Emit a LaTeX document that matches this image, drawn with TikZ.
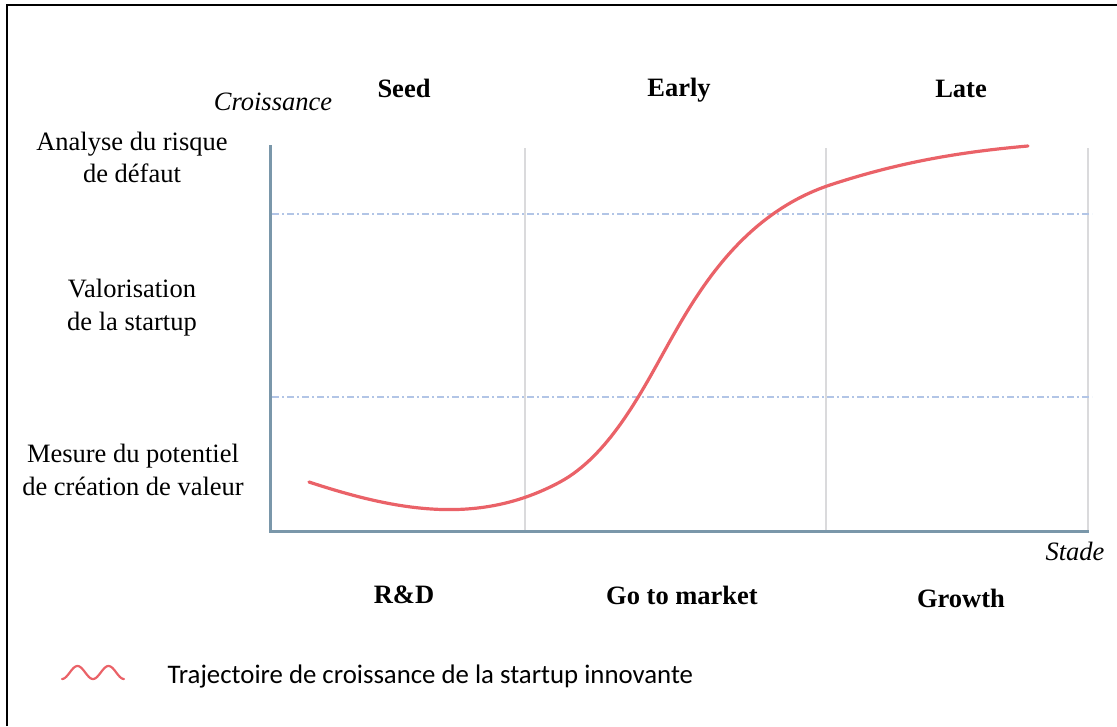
\documentclass[tikz,border=0pt]{standalone}
\usepackage{fontspec}
\setmainfont{Liberation Serif}
\newfontfamily\legendfont{Carlito}
\usetikzlibrary{positioning}
\definecolor{axisblue}{RGB}{122,151,170}
\definecolor{gridgray}{RGB}{218,218,220}
\definecolor{levelblue}{RGB}{178,197,230}
\definecolor{curvered}{RGB}{234,98,104}
\tikzset{
    stage/.style = {anchor=base, font=\fontsize{26.5}{32}\selectfont\bfseries},
    axlabel/.style = {anchor=base, font=\fontsize{26.5}{32}\selectfont\itshape},
    level/.style = {align=center, font=\fontsize{26.5}{32.5}\selectfont},
    axisline/.style = {draw=axisblue, line width=3pt},
    gridline/.style = {draw=gridgray, line width=1.8pt},
    levelline/.style = {draw=levelblue, line width=1.3pt,
        dash pattern=on 7pt off 3pt on 2pt off 3pt},
    growth/.style = {draw=curvered, line width=3.2pt, line cap=round}
}
\begin{document}
\begin{tikzpicture}[x=1pt, y=-1pt]
        \useasboundingbox (0,0) rectangle (1117,726);
        \draw[line width=2.5pt] (7,726) -- (7,5) -- (1117,5);
        % axes
        \coordinate (top) at (270,145);
        \coordinate (O) at (270,531);
        \coordinate (end) at (1089,531);
        \foreach \gx in {525,826,1088}
            \draw[gridline] (\gx,148) -- (\gx,531);
        \foreach \ly in {214,397}
            \draw[levelline] (272,\ly) -- (1092,\ly);
        \draw[axisline] (top) -- (O) -- (end);
        % growth curve
        \draw[growth] (309,482) .. controls (400,512) and (480,525) .. (560,482)
            .. controls (608,456) and (640,395) .. (665,350)
            .. controls (695,296) and (740,215) .. (830,185)
            .. controls (900,162) and (960,152) .. (1028,146);
        % labels
        \node[axlabel] (croiss) at (273,110) {Croissance};
        \node[axlabel] (stade) at (1075,560) {Stade};
        \node[stage] (seed) at (404,97) {Seed};
        \node[stage] (early) at (679,96) {Early};
        \node[stage] (late) at (961,97) {Late};
        \node[stage] (rd) at (404,603) {R\&D};
        \node[stage] (gtm) at (682,604) {Go to market};
        \node[stage] (grow) at (961,607) {Growth};
        \node[level] (risk) at (132,160) {\strut Analyse du risque\\\strut de défaut};
        \node[level] (valo) at (132,307.5) {\strut Valorisation\\\strut de la startup};
        \node[level] (mesure) at (133,472.5) {\strut Mesure du potentiel\\\strut de création de valeur};
        % legend
        \draw[growth, line width=2.2pt] plot[domain=-90:630, samples=60, smooth]
            ({62+(\x+90)/720*62}, {672.5-6.5*sin(\x)});
        \node[anchor=base west, font=\legendfont\fontsize{26.8}{30}\selectfont] (legend) at (164,683)
            {Trajectoire de croissance de la startup innovante};
\end{tikzpicture}
\end{document}
